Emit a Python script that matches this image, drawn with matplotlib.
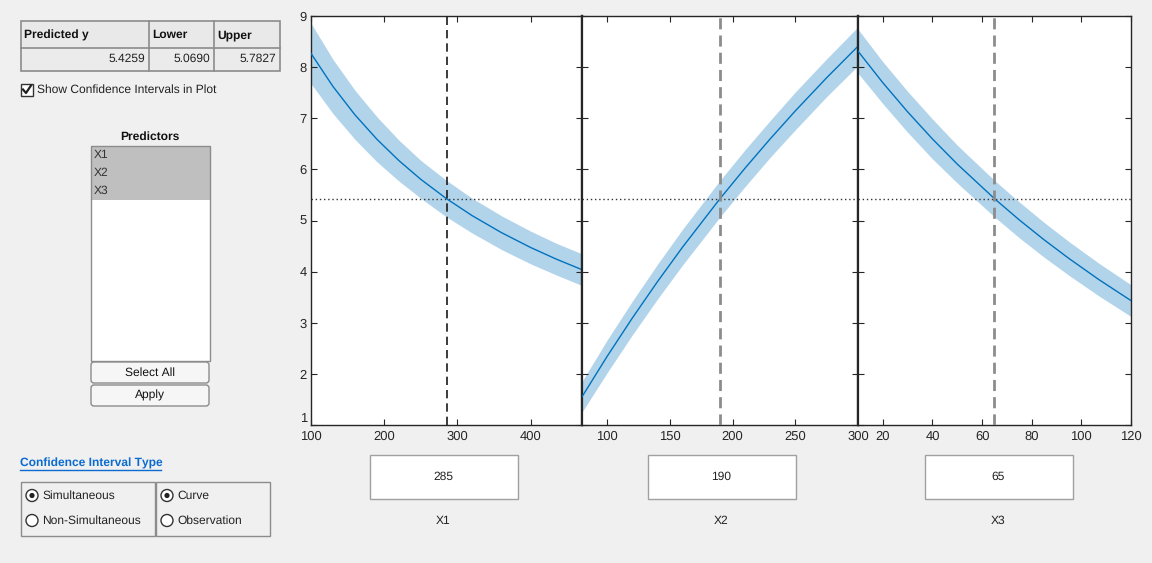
import matplotlib
matplotlib.use("Agg")
import matplotlib.pyplot as plt
from matplotlib.patches import Rectangle, FancyBboxPatch, Circle
import numpy as np

plt.rcParams['font.family'] = ['Liberation Sans', 'DejaVu Sans']
plt.rcParams['text.hinting'] = 'no_hinting'
plt.rcParams['text.hinting_factor'] = 1

# ---------------- data ----------------
x1_vals = [100, 130, 160, 190, 220, 250, 285, 320, 360, 400, 435, 470]
y1_pred = [8.268, 7.621, 7.067, 6.589, 6.172, 5.804, 5.427, 5.095, 4.763, 4.471, 4.244, 4.038]
y1_half = [0.59, 0.53, 0.48, 0.44, 0.40, 0.37, 0.357, 0.34, 0.33, 0.32, 0.31, 0.31]

x2_vals = [80, 100, 120, 140, 160, 190, 210, 230, 250, 275, 300]
y2_pred = [1.552, 2.341, 3.088, 3.798, 4.474, 5.427, 6.025, 6.596, 7.143, 7.792, 8.408]
y2_half = [0.30, 0.32, 0.33, 0.34, 0.35, 0.357, 0.36, 0.36, 0.37, 0.37, 0.38]

x3_vals = [10, 20, 30, 40, 50, 65, 75, 85, 95, 107, 120]
y3_pred = [8.312, 7.695, 7.125, 6.595, 6.103, 5.427, 5.011, 4.622, 4.257, 3.846, 3.433]
y3_half = [0.43, 0.41, 0.40, 0.39, 0.37, 0.357, 0.35, 0.34, 0.33, 0.32, 0.31]

x_limits = [(100, 470), (80, 300), (10, 120)]
x_ticks = [[100, 200, 300, 400], [100, 150, 200, 250, 300], [20, 40, 60, 80, 100, 120]]
current_x = [285, 190, 65]
predictor_names = ['X1', 'X2', 'X3']
y_ticks = [1, 2, 3, 4, 5, 6, 7, 8, 9]

predicted_y = 5.4259
lower_y = 5.0690
upper_y = 5.7827
table_headers = ['Predicted y', 'Lower', 'Upper']

# ---------------- figure ----------------
W, H = 1152, 563
fig = plt.figure(figsize=(W / 100, H / 100), dpi=100, facecolor='#F0F0F0')

# overlay axes in pixel coordinates for the GUI controls
ui = fig.add_axes([0, 0, 1, 1])
ui.set_xlim(0, W)
ui.set_ylim(H, 0)
ui.axis('off')
ui.patch.set_alpha(0)

FS = 8.6

# table
ui.add_patch(Rectangle((20.5, 20.5), 259, 27, facecolor='#E9E9E9', edgecolor='none'))
ui.add_patch(Rectangle((20.5, 47.5), 259, 23, facecolor='#EBEBEB', edgecolor='none'))
ui.add_patch(Rectangle((20.5, 20.5), 259, 50, facecolor='none', edgecolor='#8C8C8C', lw=1.2))
ui.plot([20.5, 279.5], [47.5, 47.5], color='#8C8C8C', lw=1.2)
for cx in [148.5, 213.5]:
    ui.plot([cx, cx], [20.5, 70.5], color='#8C8C8C', lw=1.2)
hdr_x = [24, 152, 217]
for hx, t in zip(hdr_x, table_headers):
    ui.text(hx, 35, t, fontsize=FS, fontweight='bold', ha='left', va='center', color='#111111')
vals = [predicted_y, lower_y, upper_y]
val_x = [145, 210, 276]
for vx, v in zip(val_x, vals):
    ui.text(vx, 59, f'{v:.4f}', fontsize=FS, ha='right', va='center', color='#222222')

# checkbox
ui.add_patch(Rectangle((20.5, 83.5), 12, 12, facecolor='white', edgecolor='#333333', lw=1))
ui.plot([23, 26, 31], [89.5, 93, 85.5], color='#222222', lw=1.6)
ui.text(37, 90, 'Show Confidence Intervals in Plot', fontsize=FS, ha='left', va='center', color='#222222')

# predictors list
ui.text(150, 137, 'Predictors', fontsize=FS, fontweight='bold', ha='center', va='center', color='#111111')
ui.add_patch(Rectangle((90.5, 145.5), 119, 215, facecolor='white', edgecolor='none'))
ui.add_patch(Rectangle((90.5, 145.5), 119, 54, facecolor='#BFBFBF', edgecolor='none'))
ui.add_patch(Rectangle((90.5, 145.5), 119, 215, facecolor='none', edgecolor='#8C8C8C', lw=1))
for i, nm in enumerate(predictor_names):
    ui.text(94, 155 + 18 * i, nm, fontsize=FS, ha='left', va='center', color='#333333')

# buttons
for (yb, lab) in [(361.5, 'Select All'), (384.5, 'Apply')]:
    ui.add_patch(FancyBboxPatch((91, yb + 0.5), 118, 21, boxstyle='round,pad=0,rounding_size=3',
                                facecolor='#F6F6F6', edgecolor='#8C8C8C', lw=1))
    ui.text(150, yb + 11, lab, fontsize=FS, ha='center', va='center', color='#111111')

# confidence interval type
ui.text(20, 463, 'Confidence Interval Type', fontsize=FS, fontweight='bold', ha='left', va='center',
        color='#0B6BD0')
ui.plot([20, 161], [469.5, 469.5], color='#0B6BD0', lw=1)
ui.add_patch(Rectangle((20.5, 481.5), 134.5, 54, facecolor='none', edgecolor='#8C8C8C', lw=1))
ui.add_patch(Rectangle((155.5, 481.5), 114, 54, facecolor='none', edgecolor='#8C8C8C', lw=1))
radios = [(32, 495.5, 'Simultaneous', True), (32, 520.5, 'Non-Simultaneous', False),
          (167, 495.5, 'Curve', True), (167, 520.5, 'Observation', False)]
for cx, cy, lab, sel in radios:
    ui.add_patch(Circle((cx, cy), 6, facecolor='white', edgecolor='#333333', lw=1))
    if sel:
        ui.add_patch(Circle((cx, cy), 2.6, facecolor='#222222', edgecolor='none'))
    ui.text(cx + 10.5, cy + 0.5, lab, fontsize=FS, ha='left', va='center', color='#222222')

# edit boxes + predictor labels under the plots
box_x = [369.5, 647.5, 924.5]
for bx, val, nm in zip(box_x, current_x, predictor_names):
    ui.add_patch(Rectangle((bx, 454.5), 148, 44, facecolor='white', edgecolor='#A0A0A0', lw=1))
    ui.text(bx + 74, 477, str(val), fontsize=FS, ha='center', va='center', color='#222222')
    ui.text(bx + 74, 521, nm, fontsize=FS, ha='center', va='center', color='#222222')

# ---------------- plots ----------------
ax_px = [(311, 582), (582, 858), (858, 1131)]
top_px, bot_px = 16, 425
xs_all = [x1_vals, x2_vals, x3_vals]
ys_all = [y1_pred, y2_pred, y3_pred]
hs_all = [y1_half, y2_half, y3_half]
vline_colors = ['#1A1A1A', '#8C8C8C', '#8C8C8C']
vline_lw = [1.2, 2.0, 2.0]
spine_col = '#262626'

for i in range(3):
    l, r = ax_px[i]
    ax = fig.add_axes([l / W, (H - bot_px) / H, (r - l) / W, (bot_px - top_px) / H])
    ax.set_facecolor('white')
    xv = np.array(xs_all[i], dtype=float)
    yv = np.array(ys_all[i], dtype=float)
    hv = np.array(hs_all[i], dtype=float)
    ax.fill_between(xv, yv - hv, yv + hv, color='#B2D4EB', lw=0, zorder=1)
    ax.plot(xv, yv, color='#0072BD', lw=1.0, zorder=3)
    ax.axhline(predicted_y, color='#333333', lw=1.0, ls=(0, (1, 2)), zorder=2)
    ax.axvline(current_x[i], color=vline_colors[i], lw=vline_lw[i],
               ls=(0, (5, 3) if i == 0 else (4, 2.2)), zorder=4)
    ax.set_xlim(*x_limits[i])
    ax.set_ylim(1, 9)
    ax.set_xticks(x_ticks[i])
    ax.set_yticks(y_ticks)
    ax.tick_params(direction='in', length=4, width=0.8, top=True, right=True,
                   colors=spine_col, labelsize=FS + 0.4)
    ax.tick_params(axis='x', pad=4)
    ax.tick_params(axis='y', pad=3)
    if i > 0:
        ax.tick_params(labelleft=False)
    for s in ax.spines.values():
        s.set_color(spine_col)
        s.set_linewidth(1.0)
    if i > 0:
        ax.spines['left'].set_linewidth(1.6)
    if i < 2:
        ax.spines['right'].set_linewidth(1.6)
    if i == 0:
        lbls = ax.get_yticklabels()
        lbls[0].set_verticalalignment('bottom')

fig.savefig('out.png', dpi=100, facecolor=fig.get_facecolor())
